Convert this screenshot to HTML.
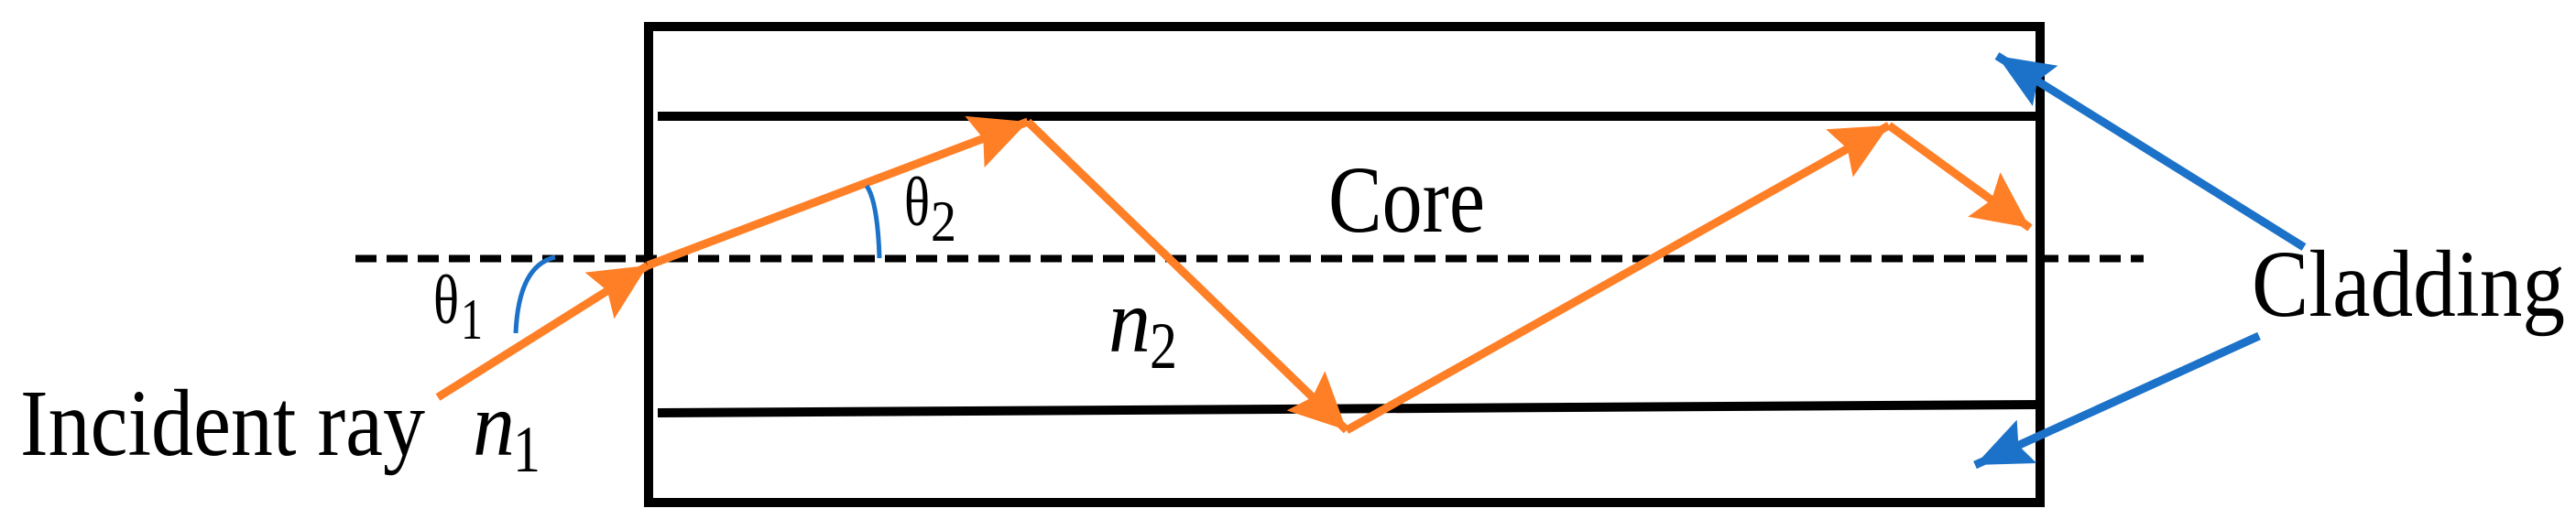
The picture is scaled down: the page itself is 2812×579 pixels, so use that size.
<!DOCTYPE html>
<html><head><meta charset="utf-8"><style>html,body{margin:0;padding:0;background:#fff}svg{display:block}</style></head>
<body>
<svg width="2812" height="579" viewBox="0 0 2812 579" xmlns="http://www.w3.org/2000/svg">
<defs>
<marker id="ao" markerUnits="userSpaceOnUse" markerWidth="70" markerHeight="70" refX="62" refY="30" orient="auto" viewBox="0 0 70 70"><path d="M0,0 L62,30 L0,60 L10,30 z" fill="#FF7F27"/></marker>
<marker id="ab" markerUnits="userSpaceOnUse" markerWidth="70" markerHeight="70" refX="62" refY="28" orient="auto" viewBox="0 0 70 70"><path d="M0,2 L62,28 L0,54 L10,28 z" fill="#1C72C8"/></marker>
</defs>
<rect x="708" y="29" width="1519" height="520" fill="none" stroke="#000" stroke-width="10"/>
<line x1="718" y1="127" x2="2227" y2="127" stroke="#000" stroke-width="10"/>
<line x1="718" y1="451" x2="2227" y2="442" stroke="#000" stroke-width="10"/>
<line x1="388" y1="282.5" x2="2340" y2="282.5" stroke="#000" stroke-width="8" stroke-dasharray="23,11"/>
<g stroke="#FF7F27" stroke-width="9" fill="none" marker-end="url(#ao)">
<line x1="478" y1="434" x2="707" y2="290"/>
<line x1="707" y1="290" x2="1122" y2="133"/>
<line x1="1122" y1="133" x2="1470" y2="470"/>
<line x1="1470" y1="470" x2="2062" y2="137"/>
<line x1="2062" y1="137" x2="2216" y2="249"/>
</g>
<g stroke="#1C72C8" stroke-width="9" fill="none" marker-end="url(#ab)">
<line x1="2515" y1="270" x2="2180" y2="61"/>
<line x1="2466" y1="367" x2="2156" y2="508"/>
</g>
<path d="M563,364 Q566,290 606,281" stroke="#1C72C8" stroke-width="5" fill="none"/>
<path d="M946,203 Q958,220 960,282" stroke="#1C72C8" stroke-width="5" fill="none"/>
<g font-family="Liberation Serif, serif" fill="#000">
<text x="22" y="497" font-size="104" textLength="442" lengthAdjust="spacingAndGlyphs">Incident ray</text>
<text x="516" y="497" font-size="100" font-style="italic" textLength="46" lengthAdjust="spacingAndGlyphs">n</text>
<text x="560" y="515" font-size="72" textLength="30" lengthAdjust="spacingAndGlyphs">1</text>
<text x="473" y="353" font-size="76" textLength="28" lengthAdjust="spacingAndGlyphs">θ</text>
<text x="503" y="370" font-size="64" textLength="24" lengthAdjust="spacingAndGlyphs">1</text>
<text x="987" y="246" font-size="76" textLength="28" lengthAdjust="spacingAndGlyphs">θ</text>
<text x="1016" y="263" font-size="64" textLength="28" lengthAdjust="spacingAndGlyphs">2</text>
<text x="1210" y="384" font-size="100" font-style="italic" textLength="46" lengthAdjust="spacingAndGlyphs">n</text>
<text x="1255" y="402" font-size="72" textLength="30" lengthAdjust="spacingAndGlyphs">2</text>
<text x="1450" y="253" font-size="104" textLength="171" lengthAdjust="spacingAndGlyphs">Core</text>
<text x="2458" y="345" font-size="104" textLength="342" lengthAdjust="spacingAndGlyphs">Cladding</text>
</g>
</svg>
</body></html>
